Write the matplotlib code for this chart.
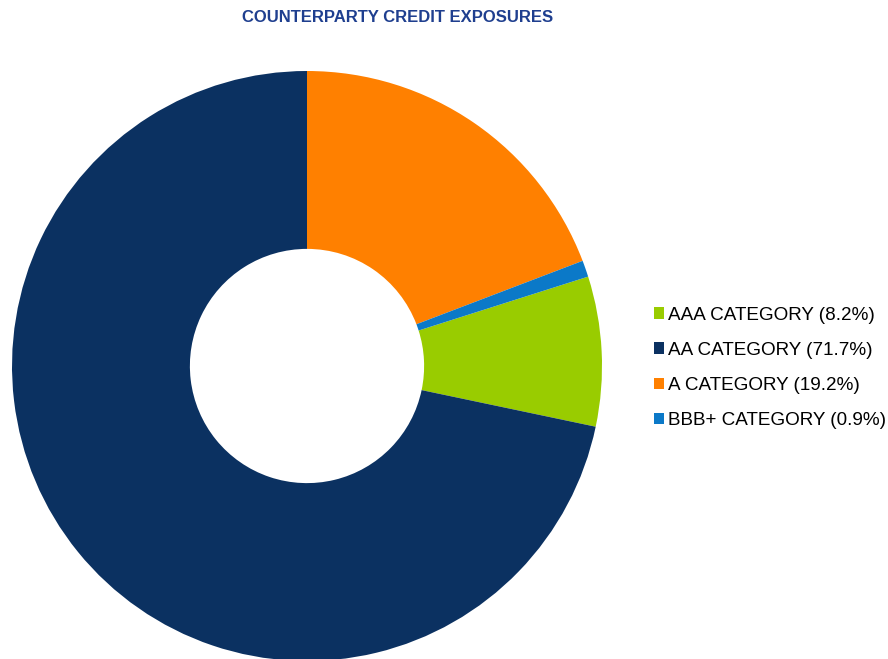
import matplotlib
matplotlib.use('Agg')
import matplotlib.pyplot as plt
from matplotlib.font_manager import fontManager

# Counterparty credit exposures by rating category.
categories = ['AAA CATEGORY', 'AA CATEGORY', 'A CATEGORY', 'BBB+ CATEGORY']
shares = [8.2, 71.7, 19.2, 0.9]
colors = ['#99CC00', '#0B3161', '#FF8000', '#0B79C8']

names = {f.name for f in fontManager.ttflist}
title_font = 'Liberation Sans Narrow' if 'Liberation Sans Narrow' in names else 'Liberation Sans'
plt.rcParams['font.family'] = ['Liberation Sans', 'DejaVu Sans']

W, H = 888, 659
fig = plt.figure(figsize=(W / 100, H / 100), dpi=100)

# Donut placed by pixel box: centre (307, 366), outer radius 295.
cx, cy, r = 307, 366, 295
ax = fig.add_axes([(cx - r) / W, (H - cy - r) / H, 2 * r / W, 2 * r / H])

# A and BBB+ start at twelve o'clock going clockwise, so start AAA after them.
start = 90 - (shares[2] + shares[3]) / 100 * 360
wedges, _ = ax.pie(shares, colors=colors, startangle=start, counterclock=False,
                   radius=1, wedgeprops=dict(width=0.603, linewidth=0))
ax.set_xlim(-1, 1)
ax.set_ylim(-1, 1)
ax.set_aspect('equal')
ax.axis('off')

fig.text(398 / W, 1 - 18 / H, 'COUNTERPARTY CREDIT EXPOSURES', ha='center', va='center',
         fontsize=12, fontweight='bold', color='#1F3F8F', family=title_font)

labels = [f'{c} ({s}%)' for c, s in zip(categories, shares)]
leg = fig.legend(wedges, labels, loc='center left', bbox_to_anchor=(654 / W, 1 - 368 / H),
                 frameon=False, fontsize=13.6, handlelength=0.55, handleheight=0.55,
                 handletextpad=0.2, labelspacing=0.97, borderpad=0, borderaxespad=0)

fig.savefig('out.png', dpi=100)
